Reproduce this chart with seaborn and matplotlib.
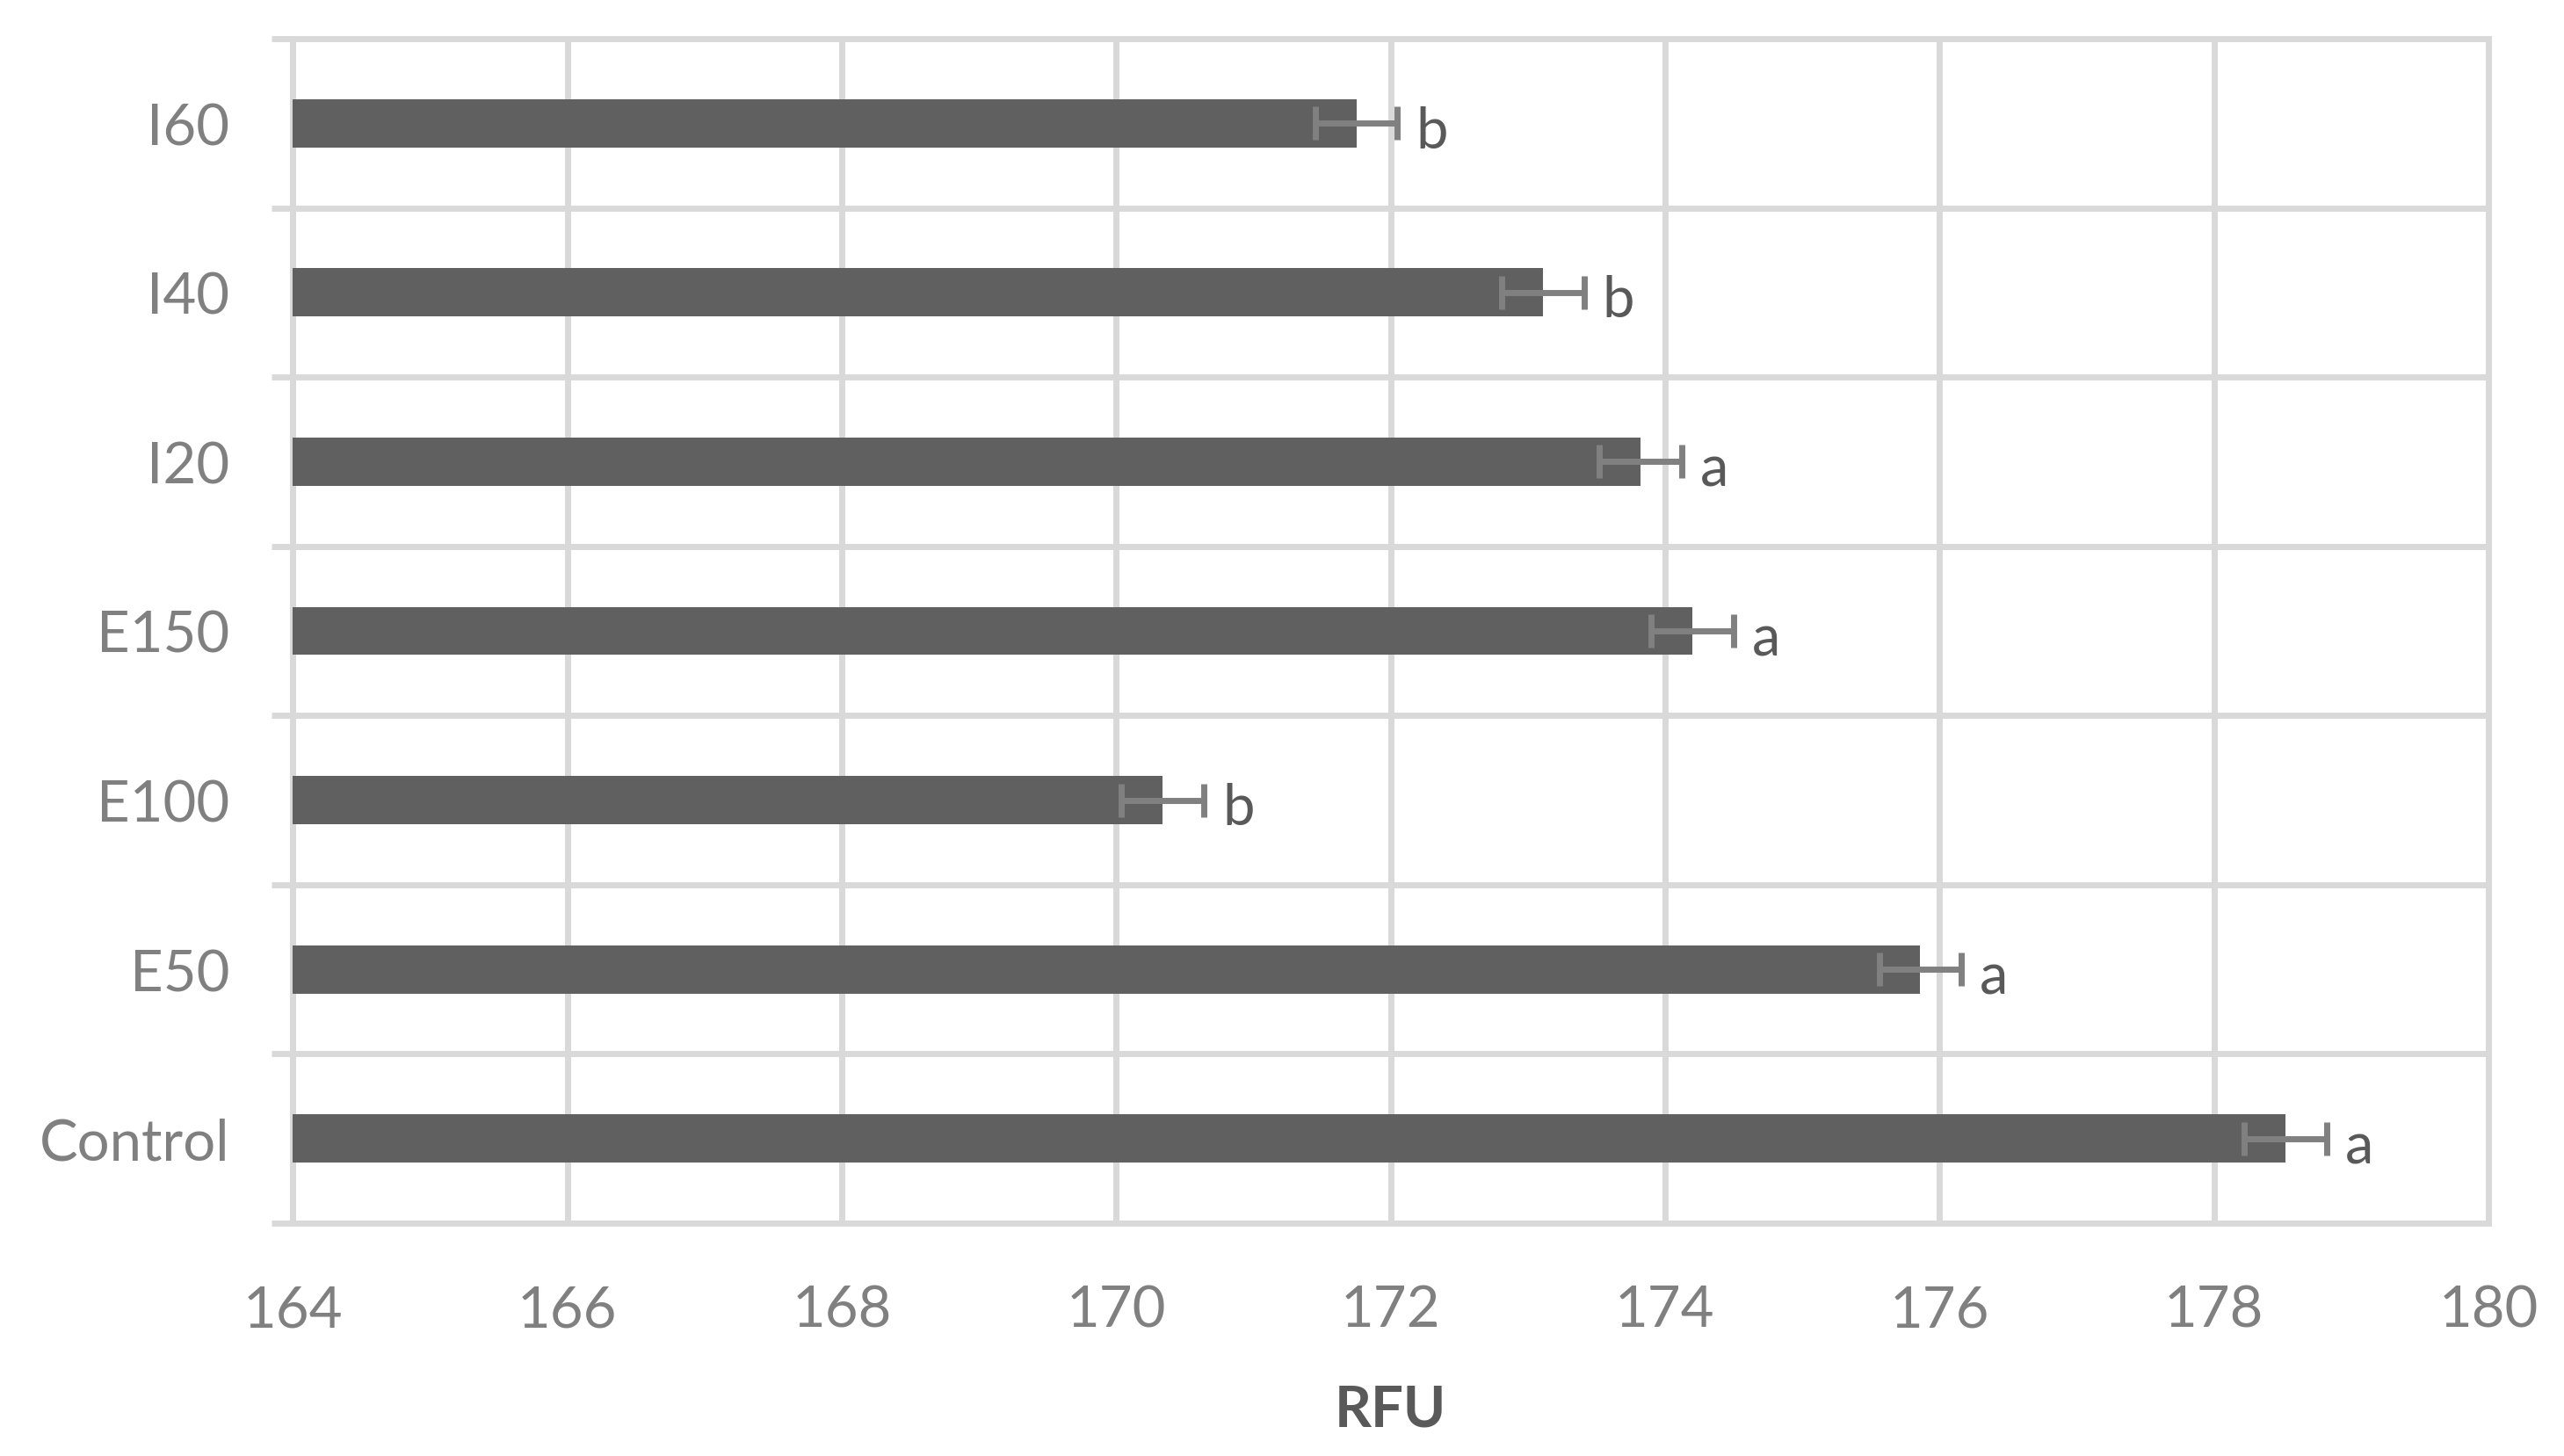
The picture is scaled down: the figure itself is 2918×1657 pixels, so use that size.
import matplotlib
matplotlib.use("Agg")
import matplotlib.pyplot as plt
import seaborn as sns
import pandas as pd
import numpy as np

# ---- data ----
categories = ["I60", "I40", "I20", "E150", "E100", "E50", "Control"]
rfu = [171.75, 173.11, 173.82, 174.20, 170.34, 175.86, 178.52]
err = [0.30, 0.30, 0.30, 0.30, 0.30, 0.30, 0.30]
letters = ["b", "b", "a", "a", "b", "a", "a"]
x_ticks = [164, 166, 168, 170, 172, 174, 176, 178, 180]
x_label = "RFU"

sns.set_theme(style="white")
plt.rcParams['font.family'] = ['Lato', 'DejaVu Sans']

GRID = "#D9D9D9"
TICKC = "#808080"
DARK = "#595959"
FS = 23.5

df = pd.DataFrame({"Treatment": categories, "RFU": rfu})

fig = plt.figure(figsize=(14.59, 8.29), dpi=200)
ax = fig.add_axes([0.1142, 0.15983, 0.8563, 0.81303])

bar_w = 0.2856
sns.barplot(data=df, x="RFU", y="Treatment", order=categories, orient="h",
            color="#606060", saturation=1, width=bar_w, linewidth=0,
            ax=ax, zorder=3)

ypos = np.arange(len(categories))
ax.errorbar(rfu, ypos, xerr=err, fmt="none", ecolor=TICKC, elinewidth=2.5,
            capsize=6.8, capthick=2.5, zorder=4)

for i in range(len(categories)):
    ax.annotate(letters[i], xy=(rfu[i] + err[i], i + bar_w / 2),
                xytext=(7.5, 0), textcoords="offset points",
                ha="left", va="baseline", color=DARK, fontsize=FS)

ax.set_xlim(x_ticks[0], x_ticks[-1])
ax.set_xticks(x_ticks)
ax.set_xticklabels([str(t) for t in x_ticks])
ax.set_ylim(len(categories) - 0.5, -0.5)
ax.set_yticks(np.arange(-0.5, len(categories), 1), minor=True)

ax.set_axisbelow(True)
ax.grid(which="major", axis="x", color=GRID, lw=2.5)
ax.grid(which="minor", axis="y", color=GRID, lw=2.5)
ax.grid(which="major", axis="y", visible=False)

ax.tick_params(axis="x", which="both", length=0, pad=25, labelsize=FS, labelcolor=TICKC)
ax.tick_params(axis="y", which="major", length=0, pad=26, labelsize=FS, labelcolor=TICKC)
ax.tick_params(axis="y", which="minor", length=8.8, width=2.5, color=GRID, left=True)

for s in ax.spines.values():
    s.set_visible(True)
    s.set_color(GRID)
    s.set_linewidth(2.5)

ax.set_ylabel("")
ax.set_xlabel(x_label, fontsize=FS, fontweight="bold", color=DARK)
ax.xaxis.label.set_va("center")
ax.xaxis.set_label_coords(0.5, -0.1573)

fig.savefig("out.png", dpi=200)
